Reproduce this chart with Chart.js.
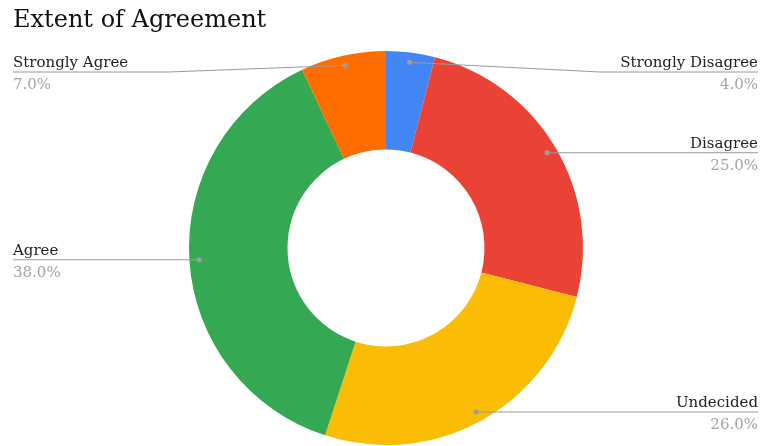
<!DOCTYPE html>
<html>
<head>
<meta charset="utf-8">
<script src="https://cdn.jsdelivr.net/npm/chart.js@4/dist/chart.umd.min.js"></script>
<style>
  html, body { margin: 0; padding: 0; background: #fff; }
  #wrap { width: 760px; height: 446px; }
</style>
</head>
<body>
<div id="wrap"><canvas id="myChart" width="760" height="446"></canvas></div>
<script>
  // data
  const categories = ["Strongly Disagree", "Disagree", "Undecided", "Agree", "Strongly Agree"];
  const values = [4, 25, 26, 38, 7];
  const colors = ["#4285F4", "#EA4335", "#FBBC04", "#34A853", "#FF6D01"];

  const fontFam = "'DejaVu Serif', serif";

  // leader lines + labels on both sides of the doughnut
  const sideLabels = {
    id: "sideLabels",
    afterDraw(chart) {
      const ctx = chart.ctx;
      const meta = chart.getDatasetMeta(0);
      const total = values.reduce((a, b) => a + b, 0);
      const minY = chart.chartArea.top + 21;
      const W = chart.width;

      ctx.save();
      meta.data.forEach((arc, i) => {
        const p = arc.getProps(["x", "y", "startAngle", "endAngle", "outerRadius"], true);
        const mid = (p.startAngle + p.endAngle) / 2;
        const r = p.outerRadius * 0.95;
        const dx = p.x + Math.cos(mid) * r;
        const dy = p.y + Math.sin(mid) * r;
        const right = Math.cos(mid) >= 0;
        const lineY = Math.max(dy, minY);

        ctx.font = "15px " + fontFam;
        const tw = ctx.measureText(categories[i]).width;
        const edge = right ? W - 2 : 13;
        const bend = right ? edge - tw - 20 : edge + tw + 40;

        // line
        ctx.strokeStyle = "#9a9a9a";
        ctx.lineWidth = 1;
        ctx.beginPath();
        ctx.moveTo(dx, dy);
        if (Math.abs(lineY - dy) > 0.5) ctx.lineTo(bend, lineY);
        ctx.lineTo(edge, lineY);
        ctx.stroke();

        // dot
        ctx.fillStyle = "#9e9e9e";
        ctx.beginPath();
        ctx.arc(dx, dy, 2.5, 0, Math.PI * 2);
        ctx.fill();

        // texts
        ctx.textAlign = right ? "right" : "left";
        ctx.textBaseline = "alphabetic";
        ctx.fillStyle = "#222";
        ctx.fillText(categories[i], edge, lineY - 5);
        ctx.fillStyle = "#a3a3a3";
        ctx.fillText((values[i] / total * 100).toFixed(1) + "%", edge, lineY + 17);
      });
      ctx.restore();
    }
  };

  window.onload = function () {
    const ctx = document.getElementById("myChart").getContext("2d");
    new Chart(ctx, {
      type: "doughnut",
      data: {
        labels: categories,
        datasets: [{
          data: values,
          backgroundColor: colors,
          borderWidth: 0,
          hoverOffset: 0
        }]
      },
      options: {
        responsive: false,
        animation: false,
        cutout: "50%",
        layout: { padding: { left: 13, right: 1, top: 0, bottom: 1 } },
        plugins: {
          legend: { display: false },
          tooltip: { enabled: false },
          title: {
            display: true,
            text: "Extent of Agreement",
            align: "start",
            color: "#111",
            font: { family: fontFam, size: 24, weight: "normal", lineHeight: 1.2 },
            padding: { top: 6, bottom: 16.2 }
          }
        }
      },
      plugins: [sideLabels]
    });
  };
</script>
</body>
</html>
